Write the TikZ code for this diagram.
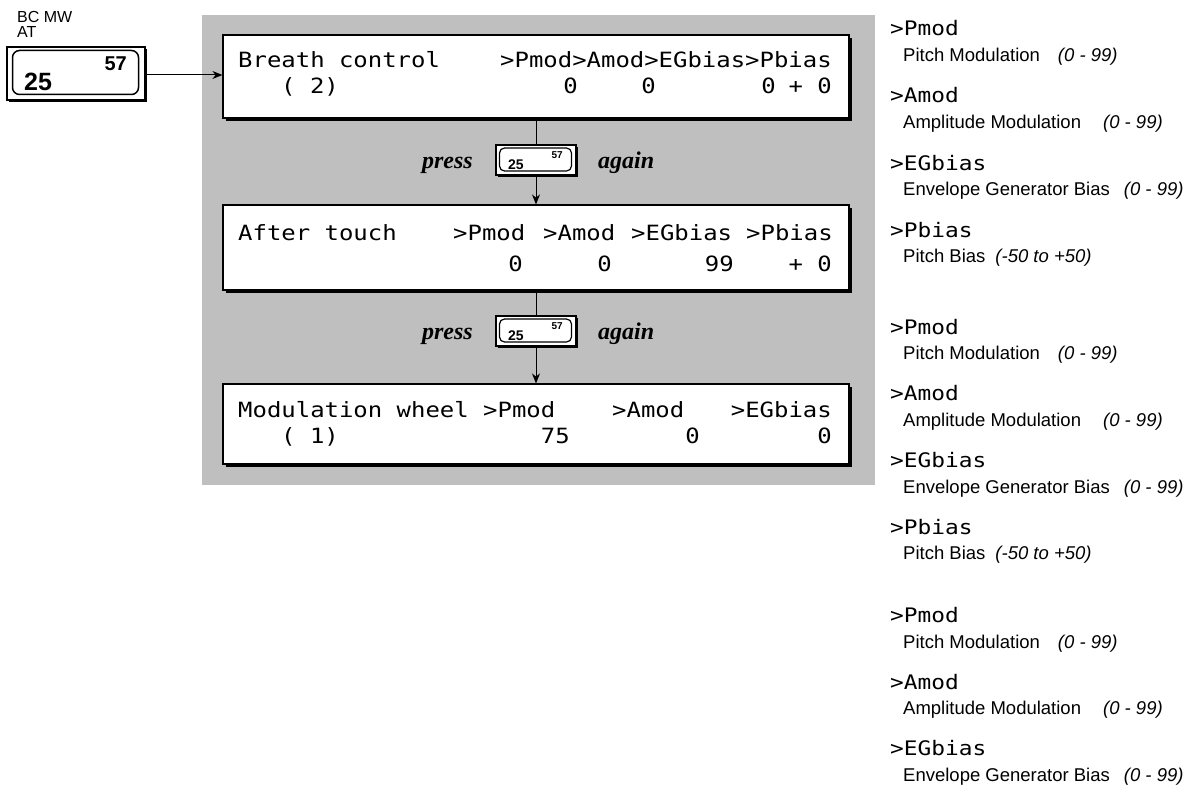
\documentclass[tikz,border=0pt]{standalone}
\usepackage{fontspec}
\setmainfont{Liberation Sans}
\newfontfamily\lcdfont[FakeStretch=1.14]{DejaVu Sans Mono}
\newfontfamily\tms{Liberation Serif}
\usetikzlibrary{arrows.meta,shadows,calc}
\tikzset{
  lcdbox/.style={draw, fill=white, line width=1.2pt, inner sep=0pt,
    drop shadow={shadow xshift=3pt, shadow yshift=-3pt, opacity=1, fill=black}},
  lcd/.style={font=\lcdfont\fontsize{21}{21}\selectfont, inner sep=0pt, anchor=base west},
  lcdr/.style={lcd, anchor=base east},
  lbl/.style={font=\lcdfont\fontsize{20}{20}\selectfont, inner sep=0pt, anchor=base west},
  desc/.style={font=\fontsize{18.5}{18.5}\selectfont, inner sep=0pt, anchor=base west},
  conn/.style={line width=1pt},
  arr/.style={conn, -{Stealth[length=10pt,width=8pt]}},
  presstxt/.style={font=\tms\bfseries\itshape\fontsize{24}{24}\selectfont, inner sep=0pt},
  btnouter/.style={draw, fill=white, line width=1.2pt, inner sep=0pt,
    drop shadow={shadow xshift=2pt, shadow yshift=-2pt, opacity=1, fill=black}},
  btninner/.style={draw, rounded corners=5pt, line width=1.2pt, inner sep=0pt},
  sbig/.style={font=\bfseries\fontsize{14}{14}\selectfont, inner sep=0pt, anchor=base west},
  ssmall/.style={font=\bfseries\fontsize{10}{10}\selectfont, inner sep=0pt, anchor=base east},
  hdr/.style={font=\fontsize{16}{15.5}\selectfont, inner sep=0pt, anchor=north west, align=left},
}
\begin{document}
\begin{tikzpicture}[x=1pt,y=-1pt]
\useasboundingbox (0,0) rectangle (1202,789);
% shaded panel
\fill[black!25] (202,15) rectangle (875,485);

% top-left key
\node[hdr] (bcmw) at (17,11) {BC MW\\AT};
\node[btnouter, minimum width=138pt, minimum height=53pt] (bigbtn) at (76,73.5) {};
\node[draw, rounded corners=7pt, line width=1.5pt, inner sep=0pt, minimum width=126pt, minimum height=44pt] (bigin) at (75.5,72.5) {};
\node[font=\bfseries\fontsize{20}{20}\selectfont, inner sep=0pt, anchor=base east] (b57) at (127,71) {57};
\node[font=\bfseries\fontsize{25}{25}\selectfont, inner sep=0pt, anchor=base west] (b25) at (24,91) {25};

% LCD boxes
\node[lcdbox, minimum width=626pt, minimum height=83pt] (b1) at (536,76.5) {};
\node[lcdbox, minimum width=626pt, minimum height=85pt] (b2) at (536,247.5) {};
\node[lcdbox, minimum width=626pt, minimum height=80pt] (b3) at (536,424) {};

% box 1 text
\node[lcd] (t1a) at (238,68) {Breath control};
\node[lcd] (t1b) at (500,68) {>Pmod>Amod>EGbias>Pbias};
\node[lcd] (t1c) at (281,94) {( 2)};
\node[lcdr] (t1d) at (578,94) {0};
\node[lcdr] (t1e) at (656,94) {0};
\node[lcdr] (t1f) at (776,94) {0};
\node[lcdr] (t1g) at (832,94) {+ 0};

% box 2 text
\node[lcd] (t2a) at (238,240) {After touch};
\node[lcd] (t2b) at (453,240) {>Pmod};
\node[lcd] (t2c) at (543,240) {>Amod};
\node[lcd] (t2d) at (631,240) {>EGbias};
\node[lcd] (t2e) at (746,240) {>Pbias};
\node[lcdr] (t2f) at (523,271) {0};
\node[lcdr] (t2g) at (612,271) {0};
\node[lcdr] (t2h) at (734,271) {99};
\node[lcdr] (t2i) at (832,271) {+ 0};

% box 3 text
\node[lcd] (t3a) at (238,417) {Modulation wheel};
\node[lcd] (t3b) at (483,417) {>Pmod};
\node[lcd] (t3c) at (612,417) {>Amod};
\node[lcdr] (t3d) at (832,417) {>EGbias};
\node[lcd] (t3e) at (281,443) {( 1)};
\node[lcdr] (t3f) at (570,443) {75};
\node[lcdr] (t3g) at (700,443) {0};
\node[lcdr] (t3h) at (832,443) {0};

% press buttons
\node[btnouter, minimum width=80pt, minimum height=30pt] (btn1) at (536,160) {};
\node[btninner, minimum width=72pt, minimum height=23pt] (btn1i) at (535.5,159.5) {};
\node[sbig] (btn1a) at ($(btn1.center)+(-28,9)$) {25};
\node[ssmall] (btn1b) at ($(btn1.center)+(27,-2)$) {57};
\node[presstxt, anchor=base east] (p1) at (473,168) {press};
\node[presstxt, anchor=base west] (a1) at (598,168) {again};

\node[btnouter, minimum width=80pt, minimum height=30pt] (btn2) at (536,331) {};
\node[btninner, minimum width=72pt, minimum height=23pt] (btn2i) at (535.5,330.5) {};
\node[sbig] (btn2a) at ($(btn2.center)+(-28,9)$) {25};
\node[ssmall] (btn2b) at ($(btn2.center)+(27,-2)$) {57};
\node[presstxt, anchor=base east] (p2) at (473,339) {press};
\node[presstxt, anchor=base west] (a2) at (598,339) {again};

% connectors
\draw[arr] (bigbtn.east |- 0,75) -- (b1.west |- 0,75);
\draw[conn] (b1.south) -- (btn1.north);
\draw[arr] (btn1.south) -- (b2.north);
\draw[conn] (b2.south) -- (btn2.north);
\draw[arr] (btn2.south) -- (b3.north);

% right-hand legend, group 1
\node[lbl] (g1a) at (890,36) {>Pmod};
\node[desc] (g1b) at (903,61.5) {Pitch Modulation\hspace{18pt}\itshape(0 - 99)};
\node[lbl] (g1c) at (890,103) {>Amod};
\node[desc] (g1d) at (903,128.5) {Amplitude Modulation\hspace{22pt}\itshape(0 - 99)};
\node[lbl] (g1e) at (890,170) {>EGbias};
\node[desc] (g1f) at (903,195.5) {Envelope Generator Bias\hspace{14pt}\itshape(0 - 99)};
\node[lbl] (g1g) at (890,237) {>Pbias};
\node[desc] (g1h) at (903,262.5) {Pitch Bias\hspace{10pt}\itshape(-50 to +50)};
% group 2
\node[lbl] (g2a) at (890,334) {>Pmod};
\node[desc] (g2b) at (903,359.5) {Pitch Modulation\hspace{18pt}\itshape(0 - 99)};
\node[lbl] (g2c) at (890,400) {>Amod};
\node[desc] (g2d) at (903,426.5) {Amplitude Modulation\hspace{22pt}\itshape(0 - 99)};
\node[lbl] (g2e) at (890,467) {>EGbias};
\node[desc] (g2f) at (903,493.5) {Envelope Generator Bias\hspace{14pt}\itshape(0 - 99)};
\node[lbl] (g2g) at (890,534) {>Pbias};
\node[desc] (g2h) at (903,559.5) {Pitch Bias\hspace{10pt}\itshape(-50 to +50)};
% group 3
\node[lbl] (g3a) at (890,622) {>Pmod};
\node[desc] (g3b) at (903,648.5) {Pitch Modulation\hspace{18pt}\itshape(0 - 99)};
\node[lbl] (g3c) at (890,689) {>Amod};
\node[desc] (g3d) at (903,714.5) {Amplitude Modulation\hspace{22pt}\itshape(0 - 99)};
\node[lbl] (g3e) at (890,755) {>EGbias};
\node[desc] (g3f) at (903,781) {Envelope Generator Bias\hspace{14pt}\itshape(0 - 99)};
\end{tikzpicture}
\end{document}
